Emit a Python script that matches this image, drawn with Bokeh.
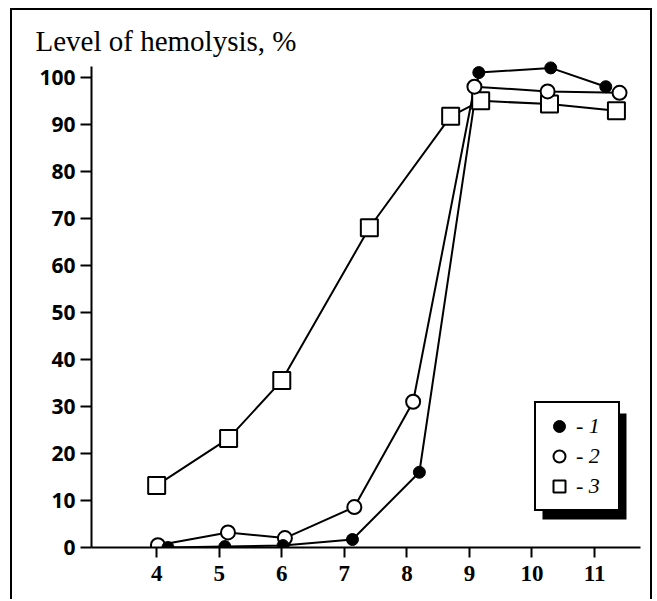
from bokeh.plotting import figure
from bokeh.models import Legend, LegendItem, BoxAnnotation, FixedTicker, Range1d
from bokeh.embed import file_html
from bokeh.resources import INLINE

# Data (x: pH-like axis, y: level of hemolysis, %)
x_1 = [4.18, 5.09, 6.02, 7.13, 8.20, 9.15, 10.30, 11.18]
y_1 = [0.0, 0.2, 0.4, 1.7, 16.0, 101.0, 102.0, 98.0]

x_2 = [4.02, 5.14, 6.05, 7.16, 8.10, 9.08, 10.25, 11.40]
y_2 = [0.5, 3.2, 2.0, 8.6, 31.0, 98.0, 97.0, 96.7]

x_3 = [4.00, 5.15, 6.00, 7.40, 8.70, 9.18, 10.28, 11.35]
y_3 = [13.2, 23.2, 35.5, 68.0, 91.7, 95.0, 94.3, 92.9]

x_ticks = [4, 5, 6, 7, 8, 9, 10, 11]
y_ticks = [0, 10, 20, 30, 40, 50, 60, 70, 80, 90, 100]

series_labels = ["- 1", "- 2", "- 3"]
title_text = "Level of hemolysis, %"

p = figure(width=642, height=591,
           x_range=Range1d(2.958, 11.735), y_range=Range1d(0, 104.0),
           output_backend="svg", toolbar_location=None,
           min_border_left=79, min_border_right=14,
           min_border_top=48, min_border_bottom=54)
p.styles = {"border-top": "2px solid black", "border-left": "2px solid black",
            "border-right": "2px solid black", "margin-left": "10px",
            "margin-top": "8px"}
p.xgrid.visible = False
p.ygrid.visible = False
p.outline_line_color = None
p.background_fill_color = "white"
p.border_fill_color = "white"

p.title.text = title_text
p.title.text_font = "Liberation Serif"
p.title.text_font_style = "normal"
p.title.text_font_size = "29px"
p.title.text_color = "black"
p.title.align = "left"
p.title.offset = -56
p.title.standoff = 3

for ax in (p.xaxis[0], p.yaxis[0]):
    ax.axis_line_width = 2
    ax.axis_line_color = "black"
    ax.major_tick_line_width = 2
    ax.major_tick_line_color = "black"
    ax.major_tick_in = 0
    ax.minor_tick_out = 0
    ax.minor_tick_in = 0
    ax.major_label_text_color = "black"

p.xaxis.ticker = FixedTicker(ticks=x_ticks)
p.xaxis.major_tick_out = 10
p.xaxis.major_label_standoff = 8
p.xaxis.major_label_text_font = "Liberation Serif"
p.xaxis.major_label_text_font_style = "bold"
p.xaxis.major_label_text_font_size = "23px"

p.yaxis.ticker = FixedTicker(ticks=y_ticks)
p.yaxis.bounds = (0, 102.3)
p.yaxis.major_tick_out = 11
p.yaxis.major_label_standoff = 5
p.yaxis.major_label_text_font = "Open Sans"
p.yaxis.major_label_text_font_style = "bold"
p.yaxis.major_label_text_font_size = "21px"

# lines
p.line(x_3, y_3, line_color="black", line_width=2)
p.line(x_2, y_2, line_color="black", line_width=2)
p.line(x_1, y_1, line_color="black", line_width=2)

# markers
s3 = p.scatter(x_3, y_3, marker="square", size=17, fill_color="white",
               line_color="black", line_width=2)
s2 = p.scatter(x_2, y_2, marker="circle", size=14, fill_color="white",
               line_color="black", line_width=2)
s1 = p.scatter(x_1, y_1, marker="circle", size=12, fill_color="black",
               line_color="black", line_width=1)

# legend shadow
shadow = BoxAnnotation(left=10.168, right=11.511, top=28.5, bottom=5.96,
                       fill_color="black", fill_alpha=1.0, line_color=None)
p.add_layout(shadow)

legend = Legend(items=[LegendItem(label=series_labels[0], renderers=[s1]),
                       LegendItem(label=series_labels[1], renderers=[s2]),
                       LegendItem(label=series_labels[2], renderers=[s3])],
                location=(443, 36), margin=0, padding=8, spacing=0,
                glyph_width=30, glyph_height=30, label_height=28, label_width=34,
                label_standoff=2,
                label_text_font="Liberation Serif", label_text_font_style="italic",
                label_text_font_size="22px", label_text_color="black",
                border_line_color="black", border_line_width=2, border_line_alpha=1.0,
                background_fill_color="white", background_fill_alpha=1.0)
p.add_layout(legend)

open("out.html", "w").write(file_html(p, INLINE))
